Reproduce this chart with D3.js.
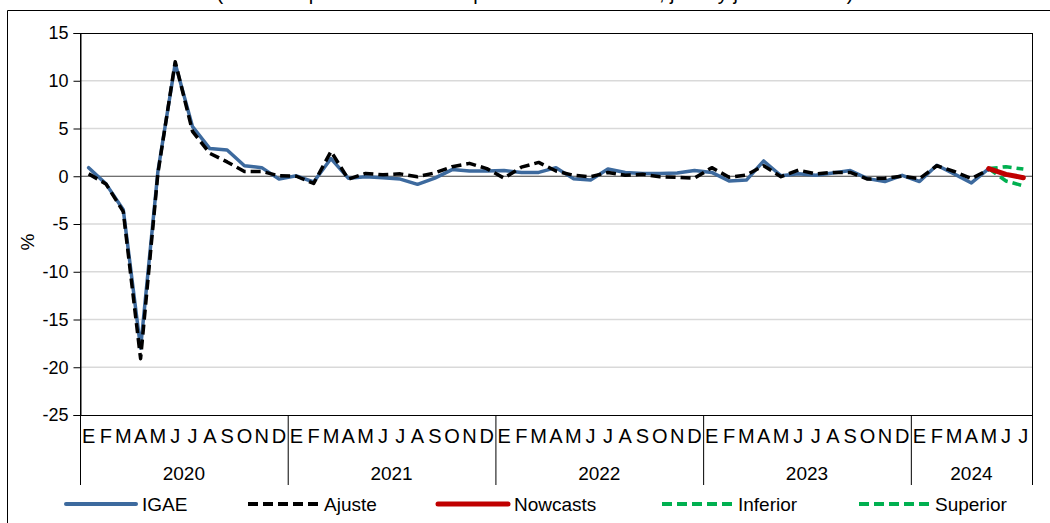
<!DOCTYPE html>
<html>
<head>
<meta charset="utf-8">
<script src="https://cdn.jsdelivr.net/npm/d3@7"></script>
<style>
    body { margin: 0; background: #fff; }
    text { font-family: "Liberation Sans", Arial, sans-serif; fill: #000; }
</style>
</head>
<body>
<div id="chart"></div>
<script>
const years = ["2020", "2021", "2022", "2023", "2024"];
const monthLetters = ["E", "F", "M", "A", "M", "J", "J", "A", "S", "O", "N", "D"];
const yTicks = [15, 10, 5, 0, -5, -10, -15, -20, -25];

// Jan 2020 .. May 2024
const igae = [
    0.9, -0.8, -3.5, -18.0, 0.5, 11.8, 5.2, 2.9, 2.75, 1.1, 0.9, -0.3,
    0.05, -0.6, 1.85, -0.2, -0.05, -0.15, -0.3, -0.85, -0.2, 0.7, 0.55, 0.55,
    0.6, 0.4, 0.4, 0.9, -0.25, -0.4, 0.75, 0.4, 0.3, 0.3, 0.35, 0.6,
    0.4, -0.5, -0.4, 1.6, 0.05, 0.25, 0.1, 0.35, 0.6, -0.25, -0.55, 0.1,
    -0.55, 1.15, 0.25, -0.7, 0.8,
];
const ajuste = [
    0.25, -0.8, -3.7, -19.1, 0.3, 12.0, 4.7, 2.4, 1.5, 0.5, 0.5, 0.05,
    0.0, -0.75, 2.6, -0.3, 0.3, 0.15, 0.25, -0.05, 0.35, 1.0, 1.35, 0.8,
    -0.2, 0.95, 1.45, 0.55, 0.1, -0.05, 0.4, 0.1, 0.2, -0.05, -0.1, -0.2,
    0.9, -0.1, 0.13, 1.1, -0.05, 0.65, 0.25, 0.4, 0.4, -0.3, -0.2, 0.0,
    -0.25, 1.1, 0.5, -0.25, 0.7,
];
// May, Jun, Jul 2024
const nowcasts = [0.8, 0.2, -0.15];
const inferior = [0.8, -0.5, -1.0];
const superior = [0.8, 1.0, 0.75];
const forecastStart = 52;
const monthCount = 55;

const width = 1050;
const height = 523;
const plot = { left: 80, right: 1032, top: 33, bottom: 415 };

const colors = {
    igae: "#3D6A9E",
    ajuste: "#000000",
    nowcasts: "#C00000",
    band: "#00B050",
    grid: "#D9D9D9",
};

const svg = d3
    .select("#chart")
    .append("svg")
    .attr("width", width)
    .attr("height", height);

// outer frame
svg.append("path")
    .attr("d", `M7.5,${height + 5} V10.5 H${width + 5}`)
    .attr("fill", "none")
    .attr("stroke", "#000")
    .attr("stroke-width", 1);

// subtitle, cut off at the top like in the original
svg.append("text")
    .attr("x", 535)
    .attr("y", 0)
    .attr("text-anchor", "middle")
    .style("font-size", "20px")
    .text("(variación porcentual con respecto al mes anterior, junio y julio de 2024)");

const x = d3
    .scaleBand()
    .domain(d3.range(monthCount))
    .range([plot.left, plot.right])
    .padding(0);
const xc = (i) => x(i) + x.bandwidth() / 2;

const y = d3.scaleLinear().domain([-25, 15]).range([plot.bottom, plot.top]);

// gridlines
svg.append("g")
    .selectAll("line")
    .data(yTicks.filter((d) => d !== 0 && d !== -25 && d !== 15))
    .enter()
    .append("line")
    .attr("x1", plot.left)
    .attr("x2", plot.right)
    .attr("y1", (d) => y(d))
    .attr("y2", (d) => y(d))
    .attr("stroke", colors.grid)
    .attr("stroke-width", 1.5);

// plot area border
svg.append("rect")
    .attr("x", plot.left + 0.5)
    .attr("y", plot.top + 0.5)
    .attr("width", plot.right - plot.left)
    .attr("height", plot.bottom - plot.top)
    .attr("fill", "none")
    .attr("stroke", "#000")
    .attr("stroke-width", 1);

// zero line
svg.append("line")
    .attr("x1", plot.left)
    .attr("x2", plot.right)
    .attr("y1", y(0))
    .attr("y2", y(0))
    .attr("stroke", "#404040")
    .attr("stroke-width", 1.2);

// y axis (plain hyphen for negatives)
const yAxis = d3
    .axisLeft(y)
    .tickValues(yTicks)
    .tickSize(7)
    .tickPadding(5)
    .tickFormat((d) => String(d));
const yG = svg.append("g").attr("transform", `translate(${plot.left + 0.5},0)`).call(yAxis);
yG.select(".domain").attr("stroke", "#000");
yG.selectAll(".tick line").attr("stroke", "#000");
yG.selectAll("text")
    .style("font-size", "18px")
    .style("font-family", '"Liberation Sans", Arial, sans-serif')
    .attr("fill", "#000");

svg.append("text")
    .attr("transform", `translate(34,${(plot.top + plot.bottom) / 2 + 18}) rotate(-90)`)
    .attr("text-anchor", "middle")
    .style("font-size", "19px")
    .text("%");

// category axis: months and years
svg.append("g")
    .selectAll("text")
    .data(d3.range(monthCount))
    .enter()
    .append("text")
    .attr("x", (i) => xc(i))
    .attr("y", 443)
    .attr("text-anchor", "middle")
    .style("font-size", "20px")
    .text((i) => monthLetters[i % 12]);

const yearStarts = years.map((d, k) => k * 12);
svg.append("g")
    .selectAll("line")
    .data([...yearStarts, monthCount])
    .enter()
    .append("line")
    .attr("x1", (i) => (i === monthCount ? plot.right + 0.5 : x(i) + 0.5))
    .attr("x2", (i) => (i === monthCount ? plot.right + 0.5 : x(i) + 0.5))
    .attr("y1", plot.bottom)
    .attr("y2", 485)
    .attr("stroke", "#000")
    .attr("stroke-width", 1);

svg.append("g")
    .selectAll("text")
    .data(years)
    .enter()
    .append("text")
    .attr("x", (d, k) => {
        const a = x(k * 12);
        const last = Math.min(k * 12 + 11, monthCount - 1);
        const b = x(last) + x.bandwidth();
        return (a + b) / 2;
    })
    .attr("y", 480)
    .attr("text-anchor", "middle")
    .style("font-size", "19px")
    .text((d) => d);

// series
const line = d3
    .line()
    .x((d) => xc(d.i))
    .y((d) => y(d.v));

const toPoints = (values, start) => values.map((v, k) => ({ i: start + k, v: v }));

const series = [
    { key: "igae", data: toPoints(igae, 0), color: colors.igae, width: 3.5, dash: null },
    { key: "ajuste", data: toPoints(ajuste, 0), color: colors.ajuste, width: 3.5, dash: "10,5" },
    { key: "inferior", data: toPoints(inferior, forecastStart), color: colors.band, width: 3.5, dash: "9,5" },
    { key: "superior", data: toPoints(superior, forecastStart), color: colors.band, width: 3.5, dash: "9,5" },
    { key: "nowcasts", data: toPoints(nowcasts, forecastStart), color: colors.nowcasts, width: 5, dash: null },
];

svg.append("g")
    .selectAll("path")
    .data(series)
    .enter()
    .append("path")
    .attr("d", (s) => line(s.data))
    .attr("fill", "none")
    .attr("stroke", (s) => s.color)
    .attr("stroke-width", (s) => s.width)
    .attr("stroke-dasharray", (s) => s.dash)
    .attr("stroke-linejoin", "round")
    .attr("stroke-linecap", (s) => (s.dash ? "butt" : "round"));

// legend
const legendItems = [
    { name: "IGAE", color: colors.igae, width: 4, dash: null, x0: 66 },
    { name: "Ajuste", color: colors.ajuste, width: 4, dash: "10,5", x0: 248 },
    { name: "Nowcasts", color: colors.nowcasts, width: 5, dash: null, x0: 438 },
    { name: "Inferior", color: colors.band, width: 4, dash: "10,5", x0: 662 },
    { name: "Superior", color: colors.band, width: 4, dash: "10,5", x0: 859 },
];
const legendY = 504;
const items = svg
    .append("g")
    .selectAll("g")
    .data(legendItems)
    .enter()
    .append("g");
items.append("line")
    .attr("x1", (d) => d.x0)
    .attr("x2", (d) => d.x0 + 70)
    .attr("y1", legendY)
    .attr("y2", legendY)
    .attr("stroke", (d) => d.color)
    .attr("stroke-width", (d) => d.width)
    .attr("stroke-dasharray", (d) => d.dash)
    .attr("stroke-linecap", (d) => (d.dash ? "butt" : "round"));
items.append("text")
    .attr("x", (d) => d.x0 + 76)
    .attr("y", legendY + 7)
    .style("font-size", "19px")
    .text((d) => d.name);
</script>
</body>
</html>
